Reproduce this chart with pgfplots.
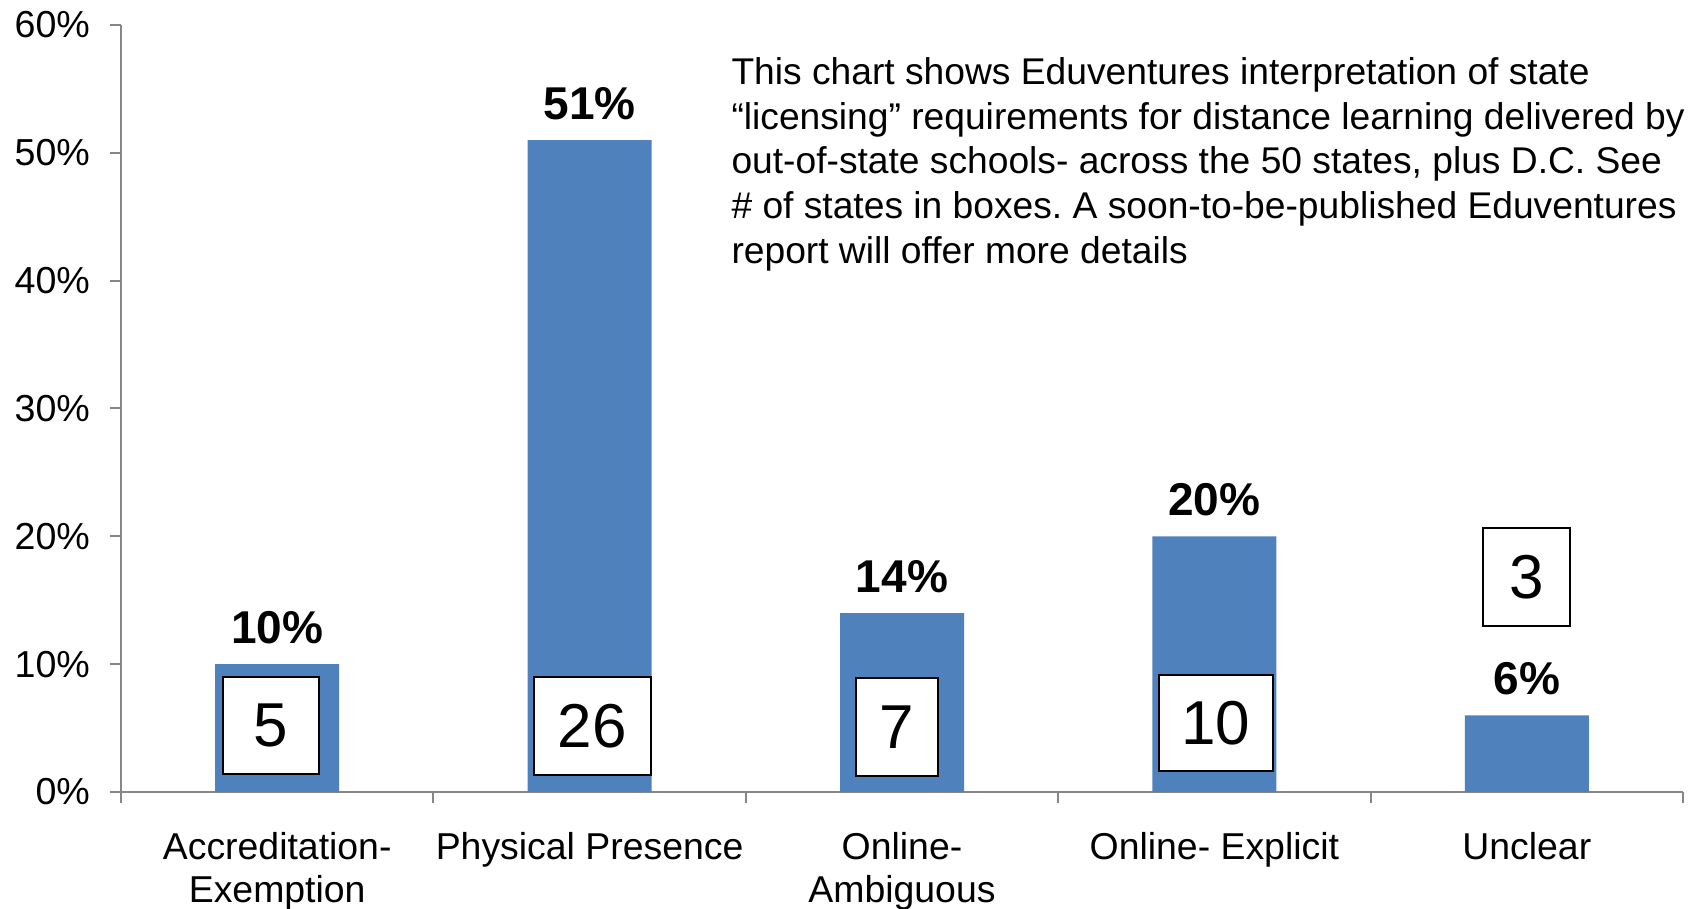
\documentclass[border=0pt]{standalone}
\usepackage{pgfplots}
\pgfplotsset{compat=1.18}
\usepackage{fontspec}
\setmainfont{Liberation Sans}
\frenchspacing
\definecolor{barblue}{HTML}{4F81BD}
\definecolor{axgray}{HTML}{868686}
\begin{document}
\begin{tikzpicture}
\path[use as bounding box] (0,0) rectangle (847pt,454.5pt);
\begin{axis}[
  at={(60.5pt,58.5pt)}, anchor=south west,
  scale only axis, width=781pt, height=383.5pt,
  xmin=-0.5, xmax=4.5, ymin=0, ymax=60,
  axis x line*=bottom, axis y line*=left,
  axis line style={draw=axgray, line width=1pt},
  tick style={draw=axgray, line width=1pt},
  tick align=outside, major tick length=5.5pt,
  ytick={0,10,...,60},
  yticklabel={\pgfmathprintnumber{\tick}\%},
  /pgf/number format/assume math mode=true,
  yticklabel style={font=\fontsize{18.8}{22}\selectfont, xshift=-6.5pt},
  xtick={-0.5,0.5,...,4.5},
  xticklabels={,,,,,},
  extra x ticks={0,1,2,3,4},
  extra x tick labels={{Accreditation-\\Exemption},{Physical Presence},{Online-\\Ambiguous},{Online- Explicit},{Unclear}},
  extra x tick style={major tick length=0pt, tick label style={align=center, font=\fontsize{18.7}{21.6}\selectfont, yshift=-16.5pt}},
  ybar, bar width=62pt,
  nodes near coords={\pgfmathprintnumber{\pgfplotspointmeta}\%},
  nodes near coords style={font=\fontsize{23}{27}\selectfont\bfseries, anchor=south, inner sep=0pt, yshift=10pt},
  clip=false,
]
\addplot[fill=barblue, draw=none] coordinates {(0,10) (1,51) (2,14) (3,20) (4,6)};
\tikzset{boxn/.style={draw=black, line width=1pt, fill=white, inner sep=0pt, font=\fontsize{31}{36}\selectfont}}
\node[boxn, minimum width=48pt, minimum height=48.5pt] at (axis cs:-0.02,5.20) {5};
\node[boxn, minimum width=58.5pt, minimum height=49pt] at (axis cs:1.009,5.16) {26};
\node[boxn, minimum width=41pt, minimum height=49pt] at (axis cs:1.984,5.09) {7};
\node[boxn, minimum width=57pt, minimum height=48pt] at (axis cs:3.005,5.40) {10};
\node[boxn, minimum width=43.5pt, minimum height=49pt] at (axis cs:3.999,16.82) {3};
\node[anchor=north west, inner sep=0pt, align=left, font=\fontsize{18.6}{22.4}\selectfont] at (axis cs:1.453,57.5)
 {This chart shows Eduventures interpretation of state\\
 “licensing” requirements for distance learning delivered by\\
 out-of-state schools- across the 50 states, plus D.C. See\\
 \# of states in boxes. A soon-to-be-published Eduventures\\
 report will offer more details};
\end{axis}
\end{tikzpicture}
\end{document}
